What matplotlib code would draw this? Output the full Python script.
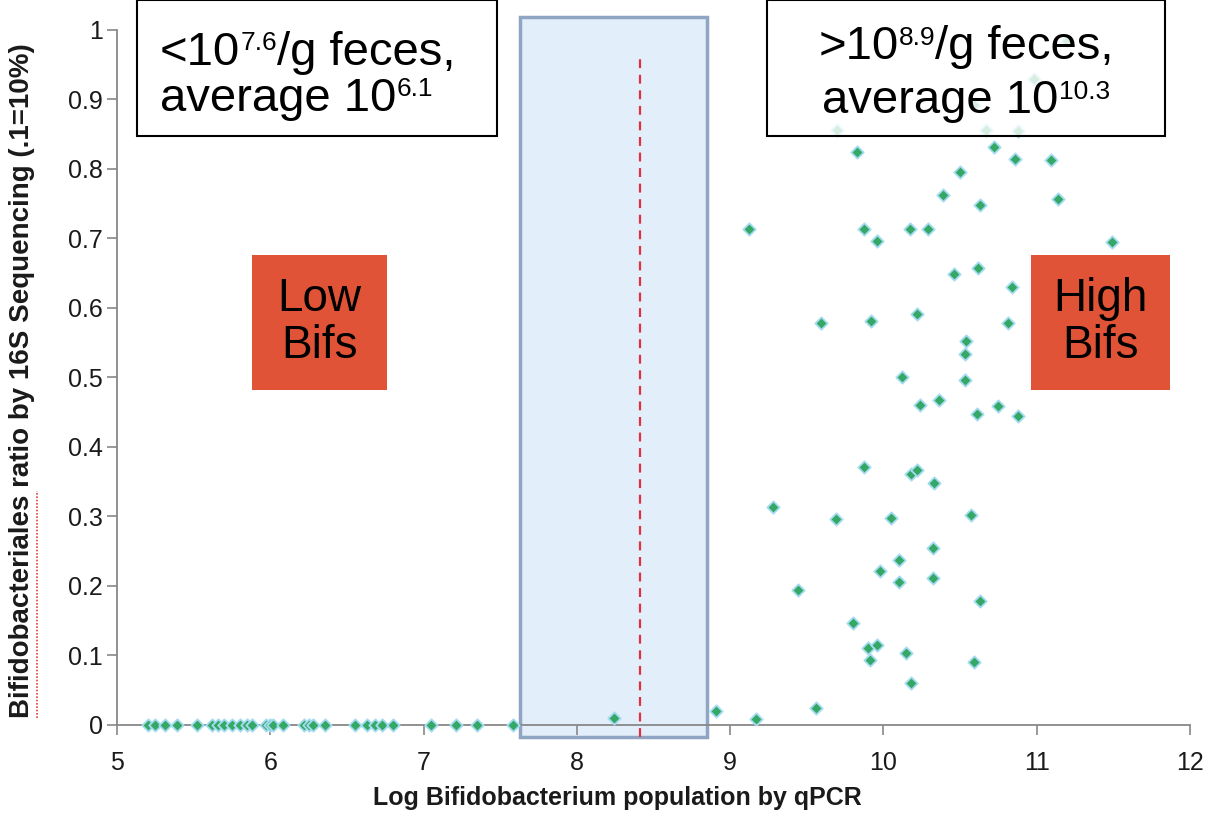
import numpy as np
import matplotlib
matplotlib.use("Agg")
import matplotlib.pyplot as plt
from matplotlib.patches import Rectangle
from matplotlib.lines import Line2D
from matplotlib.transforms import offset_copy

plt.rcParams['font.family'] = ['Liberation Sans', 'DejaVu Sans']

# samples that are below / near detection (ratio ~ 0)
low_x = [5.20, 5.25, 5.31, 5.39, 5.52, 5.62, 5.66, 5.70, 5.75, 5.80, 5.85, 5.88,
         5.97, 6.00, 6.02, 6.08, 6.22, 6.25, 6.28, 6.36, 6.55, 6.63, 6.68, 6.73,
         6.80, 7.05, 7.21, 7.35, 7.58]
low_y = [0.0] * len(low_x)

# samples with measurable bifidobacteriales ratio
high_x = [8.24, 8.91, 9.17, 9.56, 9.12, 9.28, 9.44, 9.59, 9.69, 9.70, 9.80, 9.83,
          9.87, 9.87, 9.90, 9.91, 9.92, 9.96, 9.96, 9.98, 10.05, 10.10, 10.10,
          10.12, 10.15, 10.17, 10.18, 10.18, 10.22, 10.22, 10.24, 10.29, 10.32,
          10.32, 10.33, 10.36, 10.39, 10.46, 10.50, 10.53, 10.53, 10.54, 10.57,
          10.59, 10.59, 10.61, 10.62, 10.63, 10.63, 10.67, 10.72, 10.75, 10.81,
          10.84, 10.86, 10.88, 10.88, 10.98, 11.09, 11.14, 11.20, 11.49]
high_y = [0.010, 0.020, 0.008, 0.025, 0.714, 0.314, 0.194, 0.579, 0.296, 0.856,
          0.147, 0.825, 0.714, 0.371, 0.111, 0.094, 0.581, 0.697, 0.115, 0.222,
          0.298, 0.237, 0.206, 0.500, 0.103, 0.714, 0.361, 0.060, 0.592, 0.367,
          0.460, 0.714, 0.255, 0.211, 0.348, 0.467, 0.763, 0.649, 0.795, 0.534,
          0.496, 0.553, 0.302, 0.090, 0.892, 0.447, 0.657, 0.748, 0.178, 0.856,
          0.832, 0.459, 0.578, 0.630, 0.815, 0.854, 0.444, 0.930, 0.813, 0.757,
          0.984, 0.695]

x_ticks = [5, 6, 7, 8, 9, 10, 11, 12]
y_ticks = [0, 0.1, 0.2, 0.3, 0.4, 0.5, 0.6, 0.7, 0.8, 0.9, 1]
y_tick_labels = ['0', '0.1', '0.2', '0.3', '0.4', '0.5', '0.6', '0.7', '0.8', '0.9', '1']

# thresholds
low_cut = 7.63
high_cut = 8.85
mid_line = 8.41

fig = plt.figure(figsize=(12.09, 8.19), dpi=100)
ax = fig.add_axes([0.0968, 0.1148, 0.8875, 0.8486])


def rich_line(x, y, pieces, size, align='left'):
    # draw a line of text made of normal and superscript parts
    r = fig.canvas.get_renderer()
    items = []
    for s, sup in pieces:
        fs = size * 0.56 if sup else size
        t = ax.text(x, y, s, fontsize=fs, ha='left', va='baseline', zorder=7)
        items.append((t, sup, t.get_window_extent(r).width))
    total = sum(w for _, _, w in items)
    dx = -total / 2 if align == 'center' else 0
    for t, sup, w in items:
        dy = size * 0.31 * 100 / 72 if sup else 0
        t.set_transform(offset_copy(ax.transData, fig=fig, x=dx, y=dy, units='dots'))
        dx += w


# shaded intermediate zone
ax.add_patch(Rectangle((low_cut, -0.018), high_cut - low_cut, 1.037,
                       facecolor='#e2eef9', edgecolor='#8ea5c3', linewidth=2.5,
                       zorder=1, clip_on=False))
ax.plot([mid_line, mid_line], [-0.018, 0.964], color='#e03040', linestyle=(0, (4, 3)),
        linewidth=1.6, zorder=2, clip_on=False)

ax.scatter(low_x, low_y, marker='D', s=40, facecolor='#36a866', edgecolor='#a5dcf2',
           linewidth=1.3, zorder=4, clip_on=False)
ax.scatter(high_x, high_y, marker='D', s=40, facecolor='#36a866', edgecolor='#a5dcf2',
           linewidth=1.3, zorder=4, clip_on=False)

ax.set_xlim(5, 12)
ax.set_ylim(0, 1)
ax.set_xticks(x_ticks)
ax.set_yticks(y_ticks)
ax.set_yticklabels(y_tick_labels)
ax.tick_params(axis='both', labelsize=18, color='#888888', length=7, width=1.2,
               labelcolor='#1a1a1a')
ax.tick_params(axis='y', pad=3)
ax.tick_params(axis='x', pad=12)
for s in ['top', 'right']:
    ax.spines[s].set_visible(False)
for s in ['left', 'bottom']:
    ax.spines[s].set_color('#888888')
    ax.spines[s].set_linewidth(1.3)
ax.spines['bottom'].set_zorder(3)

ax.set_xlabel('Log Bifidobacterium population by qPCR', fontsize=18,
              fontweight='bold', color='#1a1a1a')
ax.xaxis.set_label_coords(0.466, -0.088)
ax.set_ylabel('Bifidobacteriales ratio by 16S Sequencing (.1=10%)', fontsize=20,
              fontweight='bold', color='#1a1a1a')
ax.yaxis.set_label_coords(-0.076, 0.496)

# spell-check underline under the first word
fig.add_artist(Line2D([0.031, 0.031], [0.123, 0.40], color='#e04040', linewidth=1.2,
                      linestyle=(0, (1, 1))))

# annotation boxes at the top
ax.add_patch(Rectangle((5.13, 0.848), 2.35, 0.195, facecolor='white', alpha=0.8,
                       edgecolor='none', zorder=5, clip_on=False))
ax.add_patch(Rectangle((5.13, 0.848), 2.35, 0.195, facecolor='none',
                       edgecolor='black', linewidth=1.5, zorder=6, clip_on=False))
rich_line(5.28, 0.950, [('<10', False), ('7.6', True), ('/g feces,', False)], 34)
rich_line(5.28, 0.884, [('average 10', False), ('6.1', True)], 34)

ax.add_patch(Rectangle((9.24, 0.848), 2.60, 0.195, facecolor='white', alpha=0.8,
                       edgecolor='none', zorder=5, clip_on=False))
ax.add_patch(Rectangle((9.24, 0.848), 2.60, 0.195, facecolor='none',
                       edgecolor='black', linewidth=1.5, zorder=6, clip_on=False))
rich_line(10.54, 0.958, [('>10', False), ('8.9', True), ('/g feces,', False)], 34, 'center')
rich_line(10.54, 0.880, [('average 10', False), ('10.3', True)], 34, 'center')

# group labels
ax.add_patch(Rectangle((5.88, 0.482), 0.88, 0.194, facecolor='#e05337',
                       edgecolor='none', zorder=5))
ax.text(6.32, 0.579, 'Low\nBifs', fontsize=33, ha='center', va='center',
        linespacing=1.1, zorder=7)
ax.add_patch(Rectangle((10.96, 0.482), 0.91, 0.194, facecolor='#e05337',
                       edgecolor='none', zorder=5))
ax.text(11.415, 0.579, 'High\nBifs', fontsize=33, ha='center', va='center',
        linespacing=1.1, zorder=7)

fig.savefig('out.png', dpi=100)
